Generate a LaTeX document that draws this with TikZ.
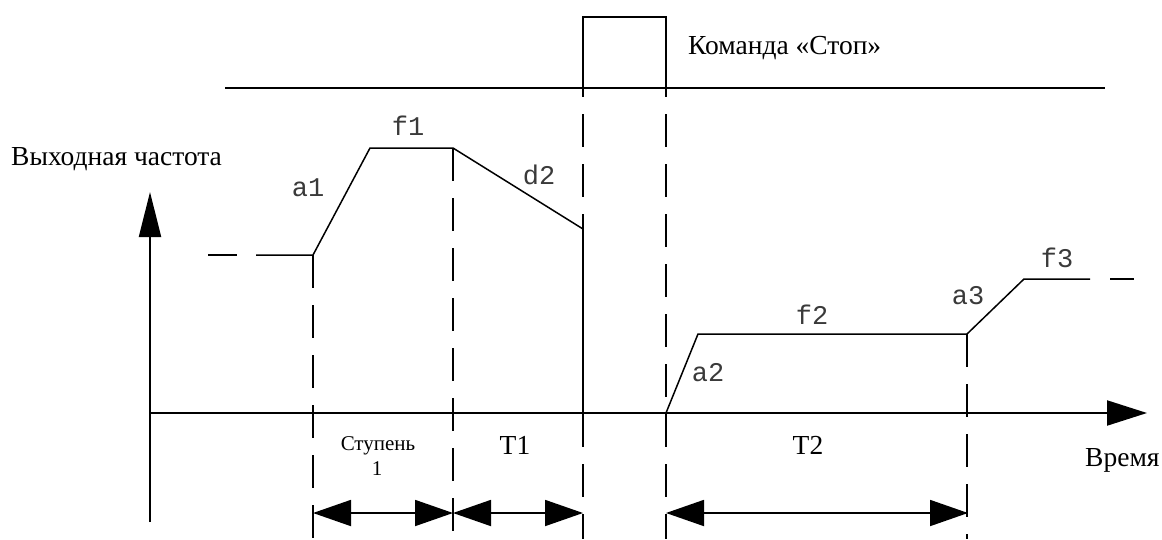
\documentclass[tikz,border=0pt]{standalone}
\usepackage{fontspec}
\setmainfont{Liberation Serif}
\newfontfamily\monof{Liberation Mono}
\usetikzlibrary{arrows.meta}
\definecolor{lblgray}{HTML}{3A3A3A}
\tikzset{
  axisline/.style={line width=2.1pt, black},
  curveline/.style={line width=1.5pt, black},
  dashline/.style={line width=2pt, black, dash pattern=on 33pt off 17pt},
  dimarrow/.style={line width=1.8pt, black, {Triangle[length=38pt,width=26pt]}-{Triangle[length=38pt,width=26pt]}},
  biglabel/.style={inner sep=0pt, font=\fontsize{27.5}{30}\selectfont},
  smalllabel/.style={inner sep=0pt, font=\fontsize{21}{24}\selectfont},
  monolabel/.style={inner sep=0pt, text=lblgray, font=\monof\fontsize{27}{30}\selectfont},
}
\begin{document}
\begin{tikzpicture}[x=1pt,y=-1pt]
\useasboundingbox (0,0) rectangle (1162,539);
% key coordinates
\coordinate (yb) at (150,522);
\coordinate (yt) at (150,192);
\coordinate (xl) at (150,413);
\coordinate (xr) at (1147,413);
\coordinate (tl) at (225,88);
\coordinate (tr) at (1105,88);
% pulse
\coordinate (p1) at (583,88);
\coordinate (p2) at (583,17);
\coordinate (p3) at (666,17);
\coordinate (p4) at (666,88);
% frequency curve
\coordinate (c0) at (208,255);
\coordinate (c0b) at (237,255);
\coordinate (c1) at (256,255);
\coordinate (c2) at (313,255);
\coordinate (c3) at (370,148);
\coordinate (c4) at (453,148);
\coordinate (c5) at (583,229);
\coordinate (c6) at (583,413);
\coordinate (c7) at (666,413);
\coordinate (c8) at (698,334);
\coordinate (c9) at (967,334);
\coordinate (c10) at (1024,279);
\coordinate (c11) at (1090,279);
\coordinate (c12) at (1110,279);
\coordinate (c13) at (1134,279);
% bottom points
\coordinate (b1) at (313,539);
\coordinate (b2) at (453,539);
\coordinate (b3) at (583,539);
\coordinate (b4) at (666,539);
\coordinate (b5) at (967,539);
% dimension arrow ends
\coordinate (d1) at (313,513);
\coordinate (d2) at (453,513);
\coordinate (d3) at (583,513);
\coordinate (d4) at (666,513);
\coordinate (d5) at (968,513);

% axes
\draw[axisline, -{Triangle[length=45pt,width=22pt]}] (yb) -- (yt);
\draw[axisline, -{Triangle[length=40pt,width=25pt]}] (xl) -- (xr);
% command line and pulse
\draw[axisline] (tl) -- (tr);
\draw[axisline] (p1) -- (p2) -- (p3) -- (p4);
% dashed verticals
\draw[dashline] (c2) -- (b1);
\draw[dashline] (c4) -- (b2);
\draw[dashline, dash phase=24pt] (p1) -- (b3);
\draw[dashline, dash phase=24pt] (p4) -- (b4);
\draw[dashline] (c9) -- (b5);
% frequency curve
\draw[curveline] (c0) -- (c0b);
\draw[curveline] (c1) -- (c2) -- (c3) -- (c4) -- (c5);
\draw[axisline] (c5) -- (c6);
\draw[curveline] (c7) -- (c8) -- (c9) -- (c10) -- (c11);
\draw[curveline] (c12) -- (c13);
% dimension arrows
\draw[dimarrow] (d1) -- (d2);
\draw[dimarrow] (d2) -- (d3);
\draw[dimarrow] (d4) -- (d5);

% curve labels
\node[monolabel] (la1) at (308,188) {a1};
\node[monolabel] (lf1) at (408,126) {f1};
\node[monolabel] (ld2) at (539,175) {d2};
\node[monolabel] (la2) at (708,373) {a2};
\node[monolabel] (lf2) at (812,315) {f2};
\node[monolabel] (la3) at (968,296) {a3};
\node[monolabel] (lf3) at (1057,258) {f3};

% texts
\node[biglabel, anchor=base west] (lout) at (11,165) {Выходная частота};
\node[biglabel, anchor=base west] (lcmd) at (688,54) {Команда «Стоп»};
\node[biglabel, anchor=base west] (ltime) at (1085,466) {Время};
\node[smalllabel, anchor=base] (lst) at (378,450) {Ступень};
\node[smalllabel, anchor=base] (lst1) at (377,475) {1};
\node[biglabel, anchor=base] (lT1) at (515,454) {T1};
\node[biglabel, anchor=base] (lT2) at (808,454) {T2};
\end{tikzpicture}
\end{document}
